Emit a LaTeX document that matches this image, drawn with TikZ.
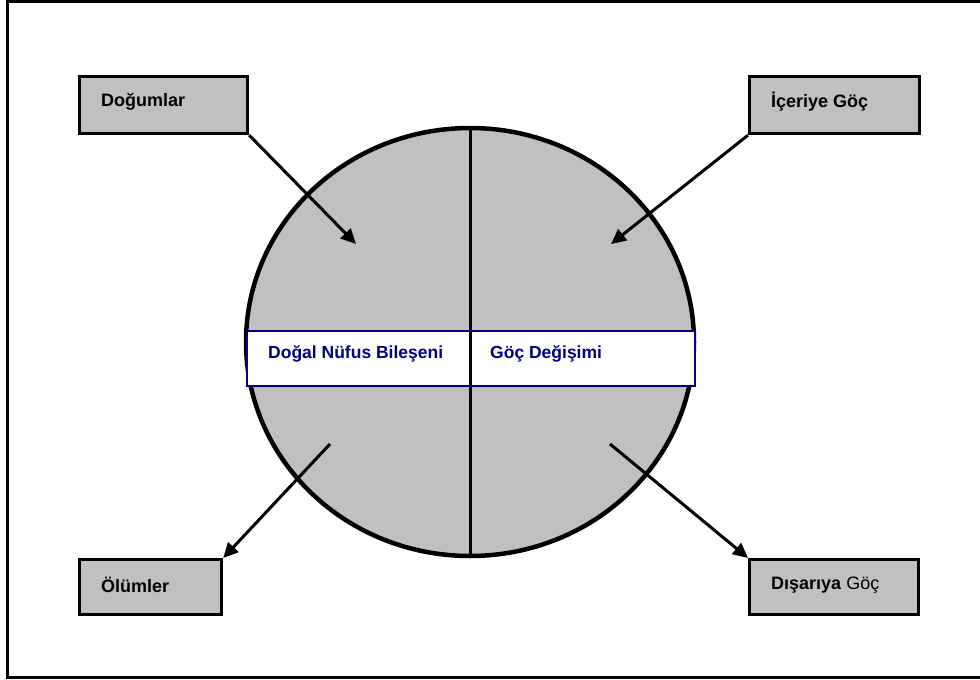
\documentclass[tikz,border=0pt]{standalone}
\usepackage{fontspec}
\setmainfont{Liberation Sans}
\usetikzlibrary{arrows.meta}
\definecolor{boxgray}{RGB}{192,192,192}
\definecolor{navyband}{RGB}{0,0,128}
\tikzset{
  labelbox/.style={draw=black, line width=3.2pt, fill=boxgray, anchor=north west, inner sep=0pt},
  flowarrow/.style={line width=3pt, -{Triangle[length=15pt,width=14pt]}},
  bandtext/.style={text=navyband, font=\fontsize{17.5}{20}\selectfont\bfseries, anchor=west, inner sep=0pt},
  boxtext/.style={font=\fontsize{18}{21}\selectfont, anchor=west, inner sep=0pt}
}
\begin{document}
\begin{tikzpicture}[x=1pt,y=-1pt]
\useasboundingbox (0,0) rectangle (980,680);
% frame
\draw[line width=3pt] (985,1) -- (7,1) -- (7,677) -- (985,677);
% circle
\draw[line width=4.5pt, fill=boxgray] (470,342) ellipse [x radius=224, y radius=214];
\coordinate (ctop) at (470,128);
\coordinate (cbot) at (470,556);
\draw[line width=3pt] (ctop) -- (cbot);
% band
\node[draw=navyband, fill=white, line width=1.6pt, minimum width=224pt, minimum height=55pt, inner sep=0pt, anchor=north west] (left) at (246,330) {};
\node[draw=navyband, fill=white, line width=1.6pt, minimum width=224pt, minimum height=55pt, inner sep=0pt, anchor=north west] (right) at (470,330) {};
\draw[line width=3pt] (470,330) -- (470,385);
\node[bandtext] (lt) at (268,354) {Doğal Nüfus Bileşeni};
\node[bandtext] (rt) at (490,354) {Göç Değişimi};
% boxes
\node[labelbox, minimum width=168pt, minimum height=57pt] (dog) at (78,75) {};
\node[boxtext] at (101,102) {\bfseries Doğumlar};
\node[labelbox, minimum width=170pt, minimum height=57pt] (ice) at (748,75) {};
\node[boxtext] at (771,102) {\bfseries İçeriye Göç};
\node[labelbox, minimum width=142pt, minimum height=55pt] (olu) at (78,558) {};
\node[boxtext] at (101,585) {\bfseries Ölümler};
\node[labelbox, minimum width=169pt, minimum height=55pt] (dis) at (748,558) {};
\node[boxtext] at (771,585) {{\bfseries Dışarıya} Göç};
% arrow endpoints
\coordinate (a1) at (356,244);
\coordinate (a2) at (611,244);
\coordinate (s3) at (330,444);
\coordinate (s4) at (610,444);
\draw[flowarrow] (dog.south east) -- (a1);
\draw[flowarrow] (ice.south west) -- (a2);
\draw[flowarrow] (s3) -- (olu.north east);
\draw[flowarrow] (s4) -- (dis.north west);
\end{tikzpicture}
\end{document}
